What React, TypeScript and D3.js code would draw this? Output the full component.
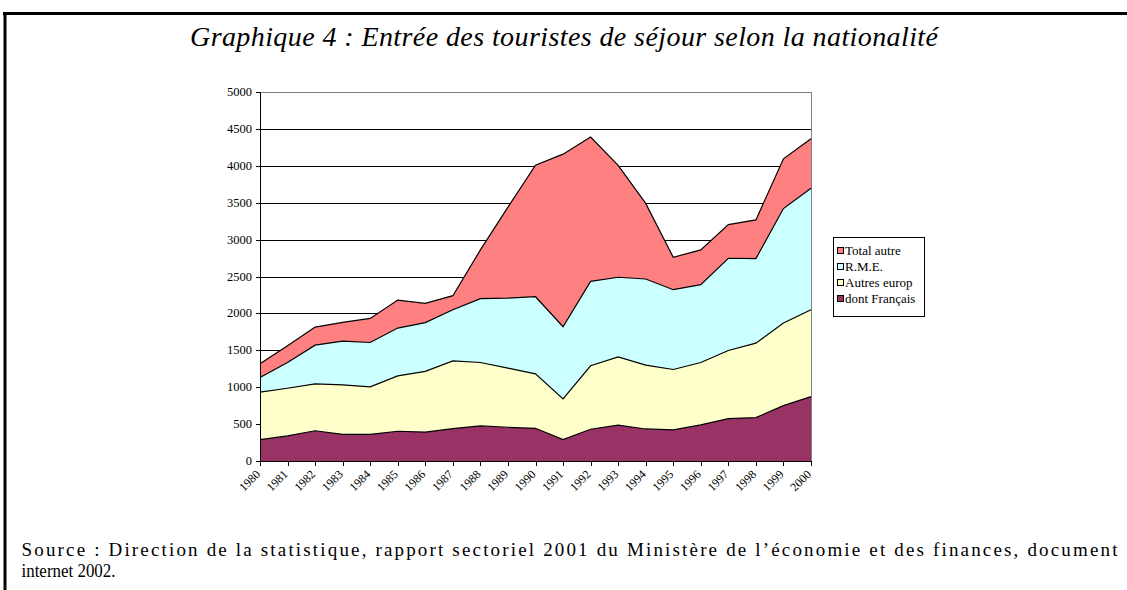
import React from "react";
import * as d3 from "d3";

const years = ["1980","1981","1982","1983","1984","1985","1986","1987","1988","1989","1990","1991","1992","1993","1994","1995","1996","1997","1998","1999","2000"];
const francais = [290,340,410,362,362,403,392,439,475,457,443,290,430,487,434,421,489,575,588,751,873];
const autresEurop = [642,646,635,670,643,751,823,918,860,801,738,552,860,923,865,819,846,923,1009,1118,1177];
const rme = [199,349,525,592,601,647,661,693,864,950,1045,977,1144,1080,1167,1081,1054,1249,1145,1552,1647];
const totalAutre = [186,226,244,254,326,380,259,190,661,1232,1783,2339,1955,1517,1024,439,471,457,525,674,670];
const yTicks = [0,500,1000,1500,2000,2500,3000,3500,4000,4500,5000];

const seriesKeys = ["fr","ae","rme","ta"];
const seriesNames: Record<string,string> = { fr: "dont Français", ae: "Autres europ", rme: "R.M.E.", ta: "Total autre" };
const seriesColors: Record<string,string> = { fr: "#993366", ae: "#FFFFCC", rme: "#CCFFFF", ta: "#FF8080" };
const legendOrder = ["ta","rme","ae","fr"];

const title = "Graphique 4 : Entrée des touristes de séjour selon la nationalité";
const source1 = "Source : Direction de la statistique, rapport sectoriel 2001 du Ministère de l’économie et des finances, document";
const source2 = "internet 2002.";

export default function App() {
  const W = 1127, H = 590;
  const x0 = 260, x1 = 811, yTop = 92, yBot = 461;
  const x = d3.scalePoint<string>().domain(years).range([x0, x1]);
  const y = d3.scaleLinear().domain([0, 5000]).range([yBot, yTop]);

  const rows = years.map((yr, i) => ({ year: yr, fr: francais[i], ae: autresEurop[i], rme: rme[i], ta: totalAutre[i] }));
  const stacked = d3.stack<any>().keys(seriesKeys)(rows);
  const area = d3.area<any>().x((d) => x(d.data.year)!).y0((d) => y(d[0])).y1((d) => y(d[1]));
  const line = d3.line<any>().x((d) => x(d.data.year)!).y((d) => y(d[1]));

  const font = "'Liberation Serif', 'Times New Roman', serif";

  return (
    <div style={{ position: "absolute", left: 0, top: 0 }}>
      <svg width={W} height={H} style={{ display: "block", background: "#fff" }}>
        <rect x={0} y={0} width={W} height={H} fill="#fff" />
        {/* frame */}
        <line x1={3} x2={W} y1={13.5} y2={13.5} stroke="#000" strokeWidth={3} />
        <line x1={5} x2={5} y1={12} y2={H} stroke="#000" strokeWidth={3} />

        <text x={564} y={46} textAnchor="middle" fontFamily={font} fontStyle="italic" fontSize={28} fill="#000" textLength={748} lengthAdjust="spacing">{title}</text>

        {/* gridlines */}
        {yTicks.map((t) => (
          <line key={t} x1={x0} x2={x1} y1={Math.round(y(t)) + 0.5} y2={Math.round(y(t)) + 0.5} stroke={t === 5000 ? "#808080" : "#000"} strokeWidth={1} />
        ))}
        <line x1={x1 + 0.5} x2={x1 + 0.5} y1={yTop} y2={yBot} stroke="#808080" />

        {/* areas */}
        {stacked.map((s) => (
          <path key={s.key} d={area(s) || ""} fill={seriesColors[s.key]} stroke="none" />
        ))}
        {stacked.map((s) => (
          <path key={s.key + "l"} d={line(s) || ""} fill="none" stroke="#000" strokeWidth={1.2} />
        ))}

        {/* y axis */}
        <line x1={x0 + 0.5} x2={x0 + 0.5} y1={yTop} y2={yBot} stroke="#000" />
        {yTicks.map((t) => (
          <g key={"yt" + t}>
            <line x1={x0 - 4} x2={x0} y1={Math.round(y(t)) + 0.5} y2={Math.round(y(t)) + 0.5} stroke="#000" />
            <text x={x0 - 8} y={y(t) + 4} textAnchor="end" fontFamily={font} fontSize={12.5} fill="#000">{t}</text>
          </g>
        ))}

        {/* x axis */}
        <line x1={x0} x2={x1} y1={yBot + 0.5} y2={yBot + 0.5} stroke="#000" />
        {years.map((yr) => (
          <g key={"xt" + yr}>
            <line x1={Math.round(x(yr)!) + 0.5} x2={Math.round(x(yr)!) + 0.5} y1={yBot} y2={yBot + 5} stroke="#000" />
            <text transform={`translate(${x(yr)! + 1},${yBot + 14}) rotate(-45)`} textAnchor="end" fontFamily={font} fontSize={12} fill="#000">{yr}</text>
          </g>
        ))}

        {/* legend */}
        <rect x={833.5} y={237.5} width={91} height={79} fill="#fff" stroke="#000" />
        {legendOrder.map((k, i) => (
          <g key={"lg" + k}>
            <rect x={837.5} y={247.5 + i * 16} width={6} height={6} fill={seriesColors[k]} stroke="#000" />
            <text x={845} y={255 + i * 16} fontFamily={font} fontSize={13} fill="#000">{seriesNames[k]}</text>
          </g>
        ))}

        <text x={21.5} y={556} fontFamily={font} fontSize={19} fill="#000" textLength={1096} lengthAdjust="spacing">{source1}</text>
        <text x={21.5} y={577} fontFamily={font} fontSize={18} fill="#000" textLength={94} lengthAdjust="spacingAndGlyphs">{source2}</text>
      </svg>
    </div>
  );
}
